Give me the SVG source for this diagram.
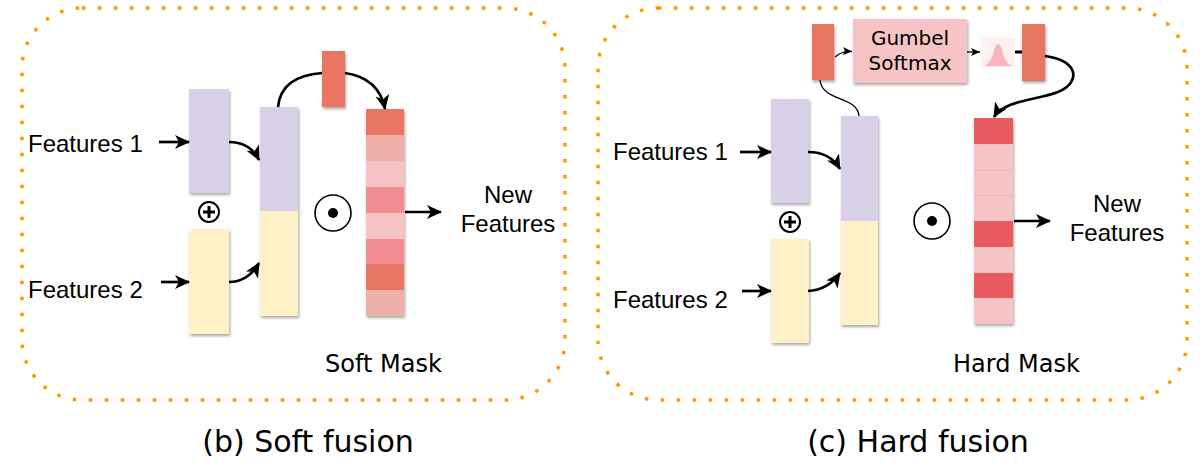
<svg xmlns="http://www.w3.org/2000/svg" width="1202" height="467" viewBox="0 0 1202 467">
<style>
.border{fill:none;stroke:#FF9900;stroke-width:3.5;stroke-dasharray:3.5 12.5}
.lbl{font-family:"Liberation Sans",Arial,sans-serif;font-size:24px;fill:#000}
.dv{font-family:"DejaVu Sans",Verdana,sans-serif;fill:#000}
.purple{fill:#D8D1E8}
.yellow{fill:#FEF0C7}
.red1{fill:#E97563}
.pk1{fill:#EFB0AC}
.pk2{fill:#F7C4C6}
.pk3{fill:#F28C93}
.red2{fill:#EB5A60}
.arr{fill:none;stroke:#000;stroke-width:2.7}
.thin{fill:none;stroke:#000;stroke-width:1.3}
.op{fill:#fff;stroke:#000}
</style>
<defs>
<filter id="sh" x="-20%" y="-20%" width="150%" height="150%">
<feDropShadow dx="1" dy="2" stdDeviation="1.5" flood-color="#000" flood-opacity="0.35"/>
</filter>
<marker id="ah" markerUnits="userSpaceOnUse" markerWidth="16" markerHeight="14" refX="14" refY="7" orient="auto">
<path d="M0,0 L15,7 L0,14 L4,7 Z" fill="#000"/>
</marker>
<marker id="ahs" markerUnits="userSpaceOnUse" markerWidth="10" markerHeight="8" refX="9" refY="4" orient="auto">
<path d="M0,0 L9,4 L0,8 L2,4 Z" fill="#000"/>
</marker>
</defs>
<rect width="1202" height="467" fill="#fff"/>

<g id="panel-soft">
<rect class="border" x="22" y="8" width="543" height="392" rx="60" ry="60"/>
</g>
<g id="panel-hard">
<rect class="border" x="598" y="8" width="589" height="392" rx="60" ry="60"/>
</g>

<!-- Soft fusion nodes -->
<g id="soft-feat1-label"><text class="lbl" x="28" y="152">Features 1</text></g>
<g id="soft-feat2-label"><text class="lbl" x="28" y="298">Features 2</text></g>
<g id="soft-feat1"><rect class="purple" x="189" y="89" width="40" height="104" filter="url(#sh)"/></g>
<g id="soft-plus">
<circle class="op" cx="209" cy="212" r="10" stroke-width="2"/>
<path d="M203,212 H215 M209,206 V218" stroke="#000" stroke-width="3"/>
</g>
<g id="soft-feat2"><rect class="yellow" x="189" y="229" width="40" height="105" filter="url(#sh)"/></g>
<g id="soft-concat" filter="url(#sh)">
<rect class="purple" x="260" y="107" width="38" height="104"/>
<rect class="yellow" x="260" y="211" width="38" height="105"/>
</g>
<g id="soft-weight"><rect class="red1" x="322" y="51" width="23" height="56" filter="url(#sh)"/></g>
<g id="soft-odot">
<circle class="op" cx="333" cy="213" r="18" stroke-width="1.6"/>
<circle cx="333" cy="213" r="5" fill="#000"/>
</g>
<g id="soft-mask" filter="url(#sh)">
<rect class="red1" x="366" y="109" width="38" height="26"/>
<rect class="pk1" x="366" y="135" width="38" height="26"/>
<rect class="pk2" x="366" y="161" width="38" height="26"/>
<rect class="pk3" x="366" y="187" width="38" height="26"/>
<rect class="pk2" x="366" y="213" width="38" height="26"/>
<rect class="pk3" x="366" y="239" width="38" height="25"/>
<rect class="red1" x="366" y="264" width="38" height="26"/>
<rect class="pk1" x="366" y="290" width="38" height="26"/>
</g>
<g id="soft-new"><text class="lbl" text-anchor="middle"><tspan x="508" y="203">New</tspan><tspan x="508" y="232">Features</tspan></text></g>
<g id="soft-mask-label"><text class="dv" x="325" y="372" font-size="24">Soft Mask</text></g>
<g id="soft-caption"><text class="dv" x="308" y="452" font-size="30" text-anchor="middle">(b) Soft fusion</text></g>

<!-- Hard fusion nodes -->
<g id="hard-feat1-label"><text class="lbl" x="613" y="160">Features 1</text></g>
<g id="hard-feat2-label"><text class="lbl" x="613" y="308">Features 2</text></g>
<g id="hard-feat1"><rect class="purple" x="771" y="99" width="38" height="104" filter="url(#sh)"/></g>
<g id="hard-plus">
<circle class="op" cx="790" cy="222" r="10" stroke-width="2"/>
<path d="M784,222 H796 M790,216 V228" stroke="#000" stroke-width="3"/>
</g>
<g id="hard-feat2"><rect class="yellow" x="771" y="239" width="38" height="104" filter="url(#sh)"/></g>
<g id="hard-concat" filter="url(#sh)">
<rect class="purple" x="841" y="116" width="37" height="105"/>
<rect class="yellow" x="841" y="221" width="37" height="104"/>
</g>
<g id="hard-odot">
<circle class="op" cx="932" cy="221" r="18" stroke-width="1.6"/>
<circle cx="932" cy="221" r="5" fill="#000"/>
</g>
<g id="hard-mask" filter="url(#sh)">
<rect class="red2" x="974" y="118" width="39" height="26"/>
<rect class="pk2" x="974" y="144" width="39" height="77"/>
<rect class="red2" x="974" y="221" width="39" height="26"/>
<rect class="pk2" x="974" y="247" width="39" height="26"/>
<rect class="red2" x="974" y="273" width="39" height="25"/>
<rect class="pk2" x="974" y="298" width="39" height="26"/>
<path d="M974,170 H1013 M974,195.5 H1013" stroke="#EDB3B5" stroke-width="1"/>
</g>
<g id="hard-weight1"><rect class="red1" x="812" y="24" width="22" height="56" filter="url(#sh)"/></g>
<g id="gumbel">
<rect x="853" y="19" width="114" height="64" fill="#F7C4C6" filter="url(#sh)"/>
<text class="dv" font-size="20" text-anchor="middle"><tspan x="910" y="45">Gumbel</tspan><tspan x="910" y="70">Softmax</tspan></text>
</g>
<g id="gaussian">
<rect x="981" y="37" width="34" height="30" fill="#FDF1F1"/>
<path d="M982,66 C989,66 992,58 994,50 C996,42 1000,42 1002,50 C1004,58 1007,66 1014,66 Z" fill="#F9B4BC"/>
</g>
<g id="hard-weight2"><rect class="red1" x="1022" y="24" width="23" height="57" filter="url(#sh)"/></g>
<g id="hard-new"><text class="lbl" text-anchor="middle"><tspan x="1117" y="212">New</tspan><tspan x="1117" y="241">Features</tspan></text></g>
<g id="hard-mask-label"><text class="dv" x="953" y="372" font-size="24">Hard Mask</text></g>
<g id="hard-caption"><text class="dv" x="918" y="452" font-size="30" text-anchor="middle">(c) Hard fusion</text></g>

<g id="connectors">
<!-- soft -->
<path class="arr" d="M159,142 H189" marker-end="url(#ah)"/>
<path class="arr" d="M161,282 H189" marker-end="url(#ah)"/>
<path class="arr" d="M229,142 Q250,142 259,160" marker-end="url(#ah)"/>
<path class="arr" d="M229,282 Q248,282 259,263" marker-end="url(#ah)"/>
<path class="arr" d="M278,107 Q281,76 322,73"/>
<path class="arr" d="M345,73 Q379,78 385,109" marker-end="url(#ah)"/>
<path class="arr" d="M405,212 H441" marker-end="url(#ah)"/>
<!-- hard -->
<path class="arr" d="M740,152 H771" marker-end="url(#ah)"/>
<path class="arr" d="M742,291 H771" marker-end="url(#ah)"/>
<path class="arr" d="M808,152 Q830,152 840,169" marker-end="url(#ah)"/>
<path class="arr" d="M808,291 Q828,290 840,273" marker-end="url(#ah)"/>
<path class="arr" d="M1014,221 H1050" marker-end="url(#ah)"/>
<path class="thin" d="M835,57 Q842,51 852,51.5" marker-end="url(#ahs)"/>
<path class="thin" d="M967,52 H980" marker-end="url(#ahs)"/>
<path d="M1015,52 H1022" stroke="#000" stroke-width="3"/>
<path class="thin" d="M820,80 C822,102 858,96 859,116"/>
<path class="arr" d="M1045,56 C1078,60 1082,82 1058,92 C1038,100 1004,100 994,117" marker-end="url(#ah)"/>
</g>
</svg>
